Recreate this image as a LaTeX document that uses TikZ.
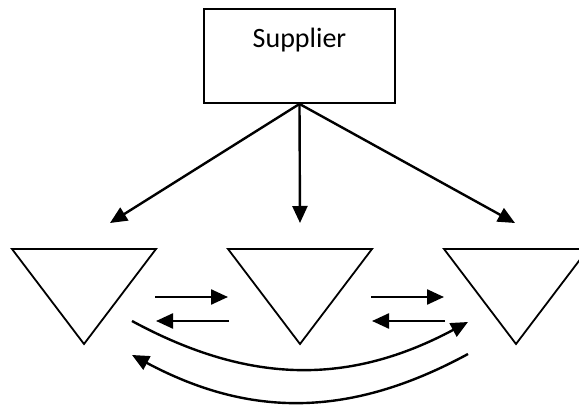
\documentclass[tikz,border=0pt]{standalone}
\usepackage{fontspec}
\setmainfont{Carlito}
\usetikzlibrary{arrows.meta}
\begin{document}
\begin{tikzpicture}[x=1pt,y=-1pt,
  box/.style={draw, line width=1.9pt, minimum width=191pt, minimum height=94pt, inner sep=0pt},
  outline/.style={line width=1.8pt, line join=miter},
  flow/.style={line width=2.4pt, -{Triangle[length=17pt,width=15pt]}},
  tri/.pic={\draw[outline] (-72,0) -- (72,0) -- (0,95) -- cycle;}
]
\useasboundingbox (0,0) rectangle (579,406);
\clip (0,0) rectangle (579,406);

% supplier box and its label
\node[box] (sup) at (299.5,56) {};
\node[anchor=base, font=\fontsize{28}{34}\selectfont, inner sep=0pt] (suplabel) at (299.5,48) {Supplier};

% three stock points (inverted triangles)
\pic at (84,249) {tri};
\pic at (300,249) {tri};
\pic at (516,249) {tri};

% ends of the supply arrows
\coordinate (t1) at (110,223);
\coordinate (t2) at (300,223);
\coordinate (t3) at (515,223);
\draw[flow] (sup.south) -- (t1);
\draw[flow] (sup.south) -- (t2);
\draw[flow] (sup.south) -- (t3);

% lateral exchanges between neighbours
\coordinate (a1s) at (155,297); \coordinate (a1e) at (228,297);
\coordinate (b1s) at (229,321); \coordinate (b1e) at (156,321);
\coordinate (a2s) at (371,297); \coordinate (a2e) at (444,297);
\coordinate (b2s) at (445,321); \coordinate (b2e) at (372,321);
\draw[flow] (a1s) -- (a1e);
\draw[flow] (b1s) -- (b1e);
\draw[flow] (a2s) -- (a2e);
\draw[flow] (b2s) -- (b2e);

% exchanges between the outer two
\coordinate (c1s) at (132,321); \coordinate (c1e) at (468,322);
\coordinate (c2s) at (468,354); \coordinate (c2e) at (132,355);
\draw[flow] (c1s) .. controls (250,385) and (350,385) .. (c1e);
\draw[flow] (c2s) .. controls (350,418) and (250,418) .. (c2e);
\end{tikzpicture}
\end{document}
